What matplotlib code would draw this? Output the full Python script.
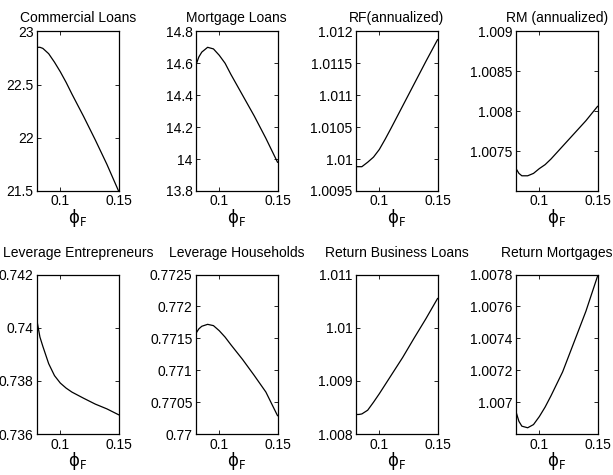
import numpy as np
import matplotlib
matplotlib.use("Agg")
import matplotlib.pyplot as plt
from matplotlib.ticker import FuncFormatter

plt.rcParams['font.family'] = ['Liberation Sans', 'DejaVu Sans']
plt.rcParams['mathtext.fontset'] = 'dejavusans'

# grid of phi_F values
phi = [0.08, 0.0825, 0.085, 0.09, 0.095, 0.1, 0.105, 0.11, 0.12, 0.13, 0.14, 0.15]

commercial_loans = [22.85, 22.85, 22.84, 22.79, 22.71, 22.62, 22.52, 22.41, 22.20, 21.98, 21.75, 21.50]
mortgage_loans = [14.59, 14.64, 14.67, 14.70, 14.69, 14.65, 14.60, 14.53, 14.40, 14.27, 14.13, 13.98]
rf_annual = [1.00988, 1.00988, 1.00988, 1.00995, 1.01003, 1.01015, 1.01031, 1.01048,
             1.01083, 1.01118, 1.01153, 1.01187]
rm_annual = [1.00728, 1.00722, 1.00719, 1.00719, 1.00722, 1.00728, 1.00733, 1.00740,
             1.00756, 1.00772, 1.00788, 1.00806]
lev_entre = [0.74025, 0.73965, 0.7393, 0.73865, 0.7382, 0.73792, 0.73773, 0.73758,
             0.73735, 0.73713, 0.73695, 0.73673]
lev_house = [0.77158, 0.77165, 0.77169, 0.77172, 0.7717, 0.77162, 0.77152, 0.7714,
             0.77117, 0.77092, 0.77066, 0.77029]
ret_business = [1.00837, 1.00837, 1.00838, 1.00845, 1.0086, 1.00876, 1.00893, 1.0091,
                1.00944, 1.00981, 1.01017, 1.01055]
ret_mortgage = [1.00694, 1.00688, 1.00685, 1.00684, 1.00686, 1.00691, 1.00697, 1.00704,
                1.00719, 1.00738, 1.00757, 1.00779]

titles = ['Commercial Loans', 'Mortgage Loans', 'RF(annualized)', 'RM (annualized)',
          'Leverage Entrepreneurs', 'Leverage Households', 'Return Business Loans',
          'Return Mortgages']
series = [commercial_loans, mortgage_loans, rf_annual, rm_annual,
          lev_entre, lev_house, ret_business, ret_mortgage]
ylims = [(21.5, 23), (13.8, 14.8), (1.0095, 1.012), (1.007, 1.009),
         (0.736, 0.742), (0.77, 0.7725), (1.008, 1.011), (1.0068, 1.0078)]
yticks = [[21.5, 22, 22.5, 23],
          [13.8, 14, 14.2, 14.4, 14.6, 14.8],
          [1.0095, 1.01, 1.0105, 1.011, 1.0115, 1.012],
          [1.0075, 1.008, 1.0085, 1.009],
          [0.736, 0.738, 0.74, 0.742],
          [0.77, 0.7705, 0.771, 0.7715, 0.772, 0.7725],
          [1.008, 1.009, 1.01, 1.011],
          [1.007, 1.0072, 1.0074, 1.0076, 1.0078]]
xticks = [0.1, 0.15]

fig = plt.figure(figsize=(6.13, 4.75), dpi=100)
lefts = [0.0604, 0.3197, 0.5808, 0.8418]
bottoms = [0.598, 0.086]
w, h = 0.133, 0.336
title_pads = [7, 12.5]

fmt = FuncFormatter(lambda v, p: '%g' % v)

for i in range(8):
    r, c = divmod(i, 4)
    ax = fig.add_axes([lefts[c], bottoms[r], w, h])
    ax.plot(phi, series[i], color='black', lw=0.9)
    ax.set_xlim(0.08, 0.15)
    ax.set_ylim(*ylims[i])
    ax.set_xticks(xticks)
    ax.set_yticks(yticks[i])
    ax.yaxis.set_major_formatter(fmt)
    ax.xaxis.set_major_formatter(fmt)
    ax.tick_params(direction='in', length=3, width=0.6, labelsize=10,
                   top=True, right=True, pad=2.5)
    for s in ax.spines.values():
        s.set_linewidth(0.9)
    ax.set_title(titles[i], fontsize=10, pad=title_pads[r])
    ax.set_xlabel(r'$\mathrm{\phi}_{\mathrm{F}}$', fontsize=12, labelpad=-1)

fig.savefig('out.png', dpi=100)
